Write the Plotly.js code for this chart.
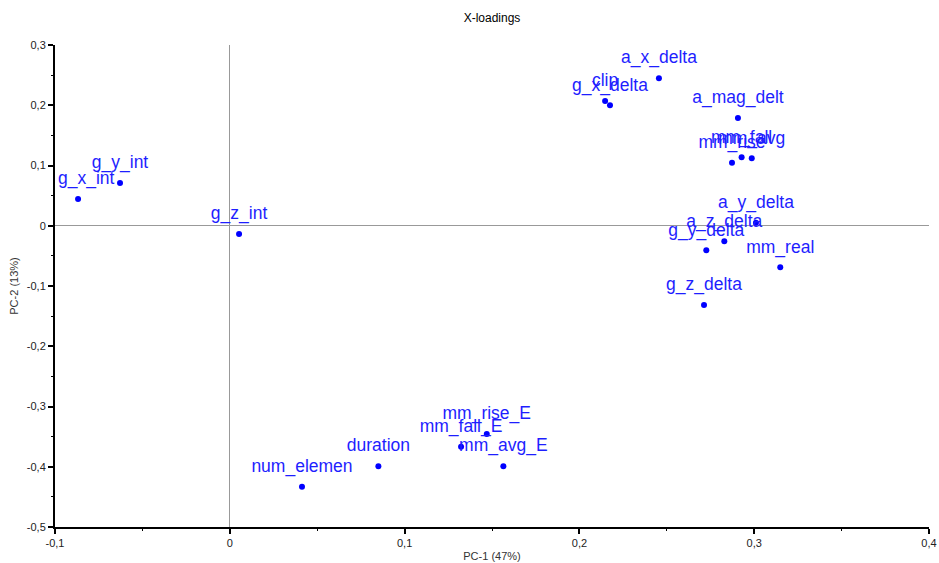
<!DOCTYPE html>
<html>
<head>
<meta charset="utf-8">
<script src="https://cdn.plot.ly/plotly-3.0.1.min.js"></script>
<style>
  html, body { margin: 0; padding: 0; background: #fff; }
  #plot { width: 939px; height: 563px; }
</style>
</head>
<body>
<div id="plot"></div>
<script>
// Loading variables
const names = [
  'g_x_int', 'g_y_int', 'g_z_int',
  'clip', 'g_x_delta', 'a_x_delta', 'a_mag_delt',
  'mm_rise', 'mm_fall', 'mm_avg',
  'a_y_delta', 'a_z_delta', 'g_y_delta', 'mm_real', 'g_z_delta',
  'num_elemen', 'duration', 'mm_avg_E', 'mm_fall_E', 'mm_rise_E'
];
// PC-1 loadings
const pc1 = [
  -0.0868, -0.0628, 0.0053,
  0.2147, 0.2175, 0.2455, 0.2907,
  0.2873, 0.2928, 0.2986,
  0.3010, 0.2829, 0.2726, 0.3149, 0.2713,
  0.0413, 0.0850, 0.1565, 0.1323, 0.1470
];
// PC-2 loadings
const pc2 = [
  0.0444, 0.0710, -0.0137,
  0.2070, 0.2000, 0.2450, 0.1790,
  0.1047, 0.1136, 0.1120,
  0.0050, -0.0258, -0.0408, -0.0690, -0.1315,
  -0.4330, -0.3990, -0.3990, -0.3667, -0.3457
];

// Axis ticks
const xTickVals = [-0.1, 0, 0.1, 0.2, 0.3, 0.4];
const xTickText = ['-0,1', '0', '0,1', '0,2', '0,3', '0,4'];
const yTickVals = [0.3, 0.2, 0.1, 0, -0.1, -0.2, -0.3, -0.4, -0.5];
const yTickText = ['0,3', '0,2', '0,1', '0', '-0,1', '-0,2', '-0,3', '-0,4', '-0,5'];

const FONT = 'Liberation Sans, Arial, sans-serif';

// Visible dots
const dots = {
  type: 'scatter',
  mode: 'markers',
  x: pc1,
  y: pc2,
  marker: { color: '#0000ff', size: 6 },
  cliponaxis: false,
  hoverinfo: 'x+y'
};

// Variable names, lifted clear of the dots by a larger transparent marker
const labels = {
  type: 'scatter',
  mode: 'markers+text',
  x: pc1,
  y: pc2,
  text: names,
  textposition: 'top center',
  textfont: { family: FONT, size: 17.5, color: '#1e1eff' },
  marker: { color: 'rgba(0,0,0,0)', size: 15 },
  cliponaxis: false,
  hoverinfo: 'text'
};

const axisCommon = {
  showgrid: false,
  zeroline: true,
  zerolinecolor: '#999999',
  zerolinewidth: 1,
  showline: true,
  linecolor: '#000000',
  linewidth: 2,
  ticks: 'outside',
  ticklen: 5,
  tickwidth: 2,
  tickcolor: '#000000',
  tickfont: { family: FONT, size: 11, color: '#222222' },
  tickmode: 'array',
  minor: { ticks: 'outside', ticklen: 2, tickwidth: 1, tickcolor: '#000000', dtick: 0.05, showgrid: false }
};

const layout = {
  width: 939,
  height: 563,
  paper_bgcolor: '#ffffff',
  plot_bgcolor: '#ffffff',
  margin: { l: 55, r: 10, t: 45, b: 36 },
  showlegend: false,
  title: {
    text: 'X-loadings',
    font: { family: FONT, size: 12, color: '#000000' },
    x: 0.5, xref: 'paper', y: 0.975, yref: 'container', xanchor: 'center'
  },
  xaxis: Object.assign({}, axisCommon, {
    range: [-0.1, 0.4],
    tickvals: xTickVals,
    ticktext: xTickText,
    title: { text: 'PC-1 (47%)', font: { family: FONT, size: 11, color: '#333333' }, standoff: 4 }
  }),
  yaxis: Object.assign({}, axisCommon, {
    range: [-0.5, 0.3],
    tickvals: yTickVals,
    ticktext: yTickText,
    title: { text: 'PC-2 (13%)', font: { family: FONT, size: 11, color: '#333333' }, standoff: 6 }
  })
};

Plotly.newPlot('plot', [dots, labels], layout, { displayModeBar: false, staticPlot: true }).then(function (gd) {
  // Keep name labels inside the plot area: nudge any label that would cross the left axis.
  // Text coordinates are local to the plot area, whose left edge is at 0.
  const minLeft = 3;
  const traces = gd.querySelectorAll('.scatterlayer .trace');
  const labelTrace = traces[traces.length - 1];
  labelTrace.querySelectorAll('.textpoint text').forEach(function (t) {
    const box = t.getBBox();
    if (box.x < minLeft) {
      const shift = minLeft - box.x;
      t.setAttribute('x', parseFloat(t.getAttribute('x')) + shift);
      t.querySelectorAll('tspan[x]').forEach(function (s) {
        s.setAttribute('x', parseFloat(s.getAttribute('x')) + shift);
      });
    }
  });
});
</script>
</body>
</html>
